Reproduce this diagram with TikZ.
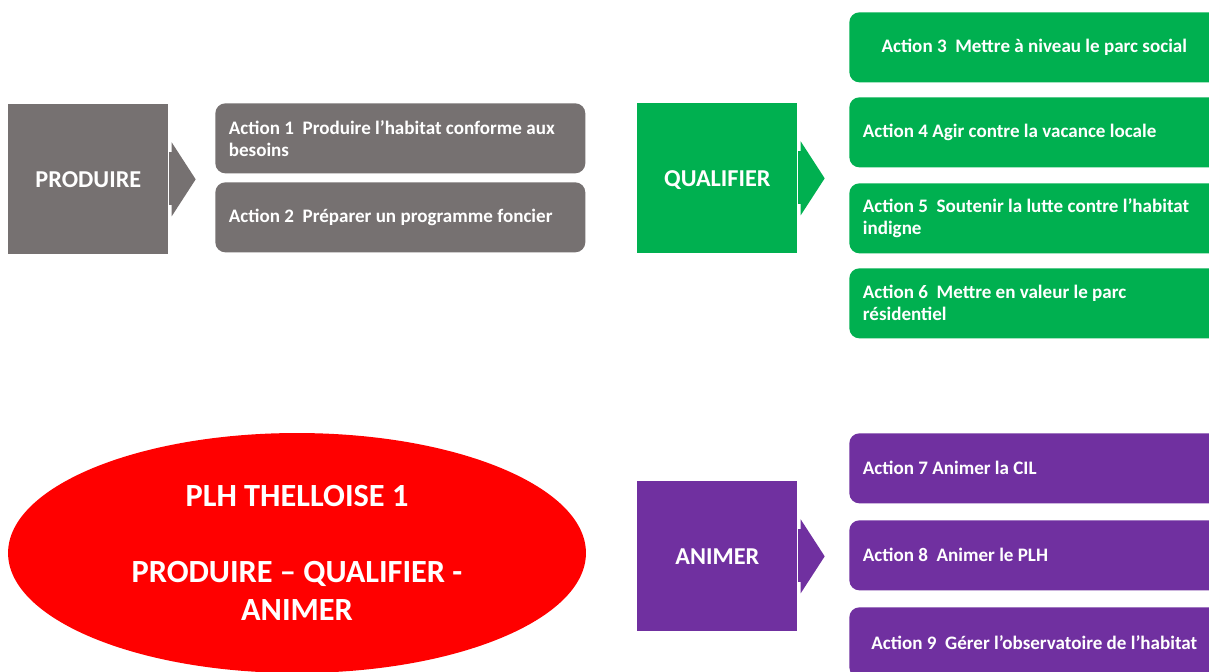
\documentclass[tikz,border=0pt]{standalone}
\usepackage{fontspec}
\setmainfont{Carlito}
\usetikzlibrary{calc,shapes.geometric}

\definecolor{greyact}{RGB}{118,113,113}
\definecolor{greenact}{RGB}{0,176,80}
\definecolor{purpleact}{RGB}{112,48,160}
\definecolor{redplh}{RGB}{255,0,0}

\begin{document}
\begin{tikzpicture}[x=0.02cm,y=-0.02cm,
		headbox/.style={anchor=north west, minimum width=3.2cm, minimum height=3cm, inner sep=0pt, text height=9.8pt, text depth=0pt, text=white, font=\bfseries\fontsize{13.8}{16}\selectfont},
		actbox/.style={anchor=north west, rounded corners=0.2cm, minimum height=1.4cm, text width=6.86cm, inner xsep=0.27cm, inner ysep=0pt, align=flush left, text=white, font=\bfseries\fontsize{10.85}{12.5}\selectfont},
		midbox/.style={actbox, align=flush center}]
		
		\clip (0,0) rectangle (1209,672);
		\fill[white] (0,0) rectangle (1209,672);
		
		% produire
		\node[headbox, fill=greyact] (prod) at (8,104) {PRODUIRE};
		\node[actbox, fill=greyact] (act1) at (215,103) {Action 1\ \ Produire l'habitat conforme aux\\ besoins};
		\node[actbox, fill=greyact] (act2) at (215,182) {Action 2\ \ Préparer un programme foncier};
		
		% qualifier
		\node[headbox, fill=greenact] (qual) at (637,103) {QUALIFIER};
		\node[midbox, fill=greenact] (act3) at (849,12) {Action 3\ \ Mettre à niveau le parc social};
		\node[actbox, fill=greenact] (act4) at (849,97) {Action 4 Agir contre la vacance locale};
		\node[actbox, fill=greenact] (act5) at (849,183) {Action 5\ \ Soutenir la lutte contre l'habitat\\ indigne};
		\node[actbox, fill=greenact] (act6) at (849,268) {Action 6\ \ Mettre en valeur le parc\\ résidentiel};
		
		% animer
		\node[headbox, fill=purpleact] (anim) at (637,481) {ANIMER};
		\node[actbox, fill=purpleact] (act7) at (849,433) {Action 7 Animer la CIL};
		\node[actbox, fill=purpleact] (act8) at (849,520) {Action 8\ \ Animer le PLH};
		\node[midbox, fill=purpleact] (act9) at (849,607) {Action 9\ \ Gérer l'observatoire de l'habitat};
		
		% chevrons
		\foreach \h/\c in {prod/greyact, qual/greenact, anim/purpleact}{
			\fill[\c] ($(\h.east)+(3,-37)$) -- ($(\h.east)+(27,0)$) -- ($(\h.east)+(3,37)$) -- cycle;
			\fill[\c] ($(\h.east)+(0,-27)$) rectangle ($(\h.east)+(3,26)$);
		}
		
		\node[ellipse, fill=redplh, minimum width=11.56cm, minimum height=4.8cm, inner sep=0pt, align=center, text=white, font=\bfseries\fontsize{18.4}{21.5}\selectfont] (plh) at (297,553) {PLH THELLOISE 1\\ \mbox{}\\ PRODUIRE – QUALIFIER -\\ ANIMER};
		
	\end{tikzpicture}
\end{document}
